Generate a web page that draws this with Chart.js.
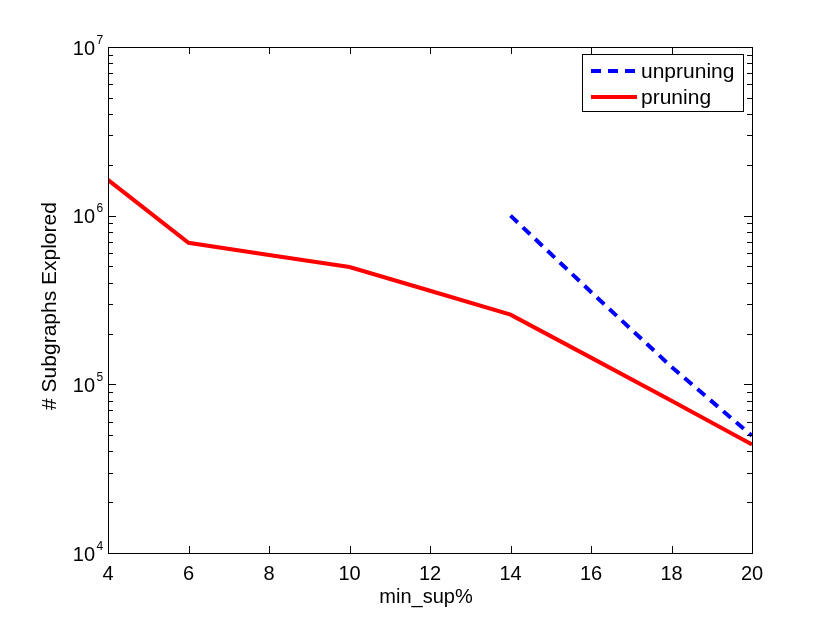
<!DOCTYPE html>
<html>
<head>
<meta charset="utf-8">
<script src="https://cdn.jsdelivr.net/npm/chart.js@4"></script>
<style>
  html, body { margin: 0; padding: 0; background: #fff; }
  #wrap { width: 830px; height: 623px; }
</style>
</head>
<body>
<div id="wrap"><canvas id="c" width="830" height="623"></canvas></div>
<script>
// values
const minSupPruning = [4, 6, 8, 10, 12, 14, 16, 18, 20];
const pruning = [1630000, 690000, 585000, 496000, 359000, 259000, 144000, 80000, 44000];
const minSupUnpruning = [14, 16, 18, 20];
const unpruning = [1000000, 353000, 127000, 49500];
const xTicks = [4, 6, 8, 10, 12, 14, 16, 18, 20];
const yDecades = [4, 5, 6, 7];
const xTitle = 'min_sup%';
const yTitle = '# Subgraphs Explored';

const FONT = '"Liberation Sans", Arial, Helvetica, sans-serif';

function toPoints(xs, ys) {
	return xs.map(function (x, i) { return { x: x, y: ys[i] }; });
}

// box, inward ticks, y labels with exponents, titles and the legend
const framePlugin = {
	id: 'frame',
	afterDraw(chart) {
		const ctx = chart.ctx;
		const a = chart.chartArea;
		const xs = chart.scales.x;
		const ys = chart.scales.y;
		ctx.save();
		ctx.strokeStyle = '#000';
		ctx.lineWidth = 1;
		ctx.strokeRect(Math.round(a.left) + 0.5, Math.round(a.top) + 0.5,
			Math.round(a.right - a.left), Math.round(a.bottom - a.top));

		ctx.beginPath();
		xTicks.forEach(function (v) {
			const px = Math.round(xs.getPixelForValue(v)) + 0.5;
			ctx.moveTo(px, a.bottom); ctx.lineTo(px, a.bottom - 7);
			ctx.moveTo(px, a.top); ctx.lineTo(px, a.top + 7);
		});
		for (let d = yDecades[0]; d <= yDecades[yDecades.length - 1]; d++) {
			for (let m = 1; m <= 9; m++) {
				if (d === yDecades[yDecades.length - 1] && m > 1) break;
				const py = Math.round(ys.getPixelForValue(m * Math.pow(10, d))) + 0.5;
				const len = m === 1 ? 8 : 5;
				ctx.moveTo(a.left, py); ctx.lineTo(a.left + len, py);
				ctx.moveTo(a.right, py); ctx.lineTo(a.right - len, py);
			}
		}
		ctx.stroke();

		ctx.fillStyle = '#000';
		ctx.textBaseline = 'alphabetic';
		yDecades.forEach(function (d) {
			const py = ys.getPixelForValue(Math.pow(10, d));
			ctx.font = '20px ' + FONT;
			ctx.textAlign = 'right';
			ctx.fillText('10', a.left - 13, py + 7.5);
			ctx.font = '12px ' + FONT;
			ctx.textAlign = 'left';
			ctx.fillText(String(d), a.left - 11.5, py - 3.5);
		});

		// axis titles
		ctx.font = '20px ' + FONT;
		ctx.textAlign = 'center';
		ctx.fillText(xTitle, 426, 603);
		ctx.save();
		ctx.translate(56, 306);
		ctx.rotate(-Math.PI / 2);
		ctx.font = '21px ' + FONT;
		ctx.fillText(yTitle, 0, 0);
		ctx.restore();

		// legend
		const lx = 582, ly = 54, lw = 161, lh = 57;
		ctx.fillStyle = '#fff';
		ctx.fillRect(lx, ly, lw, lh);
		ctx.strokeRect(lx + 0.5, ly + 0.5, lw, lh);
		ctx.textBaseline = 'middle';
		chart.data.datasets.forEach(function (ds, i) {
			const y = ly + 17 + i * 26;
			ctx.beginPath();
			ctx.strokeStyle = ds.borderColor;
			ctx.lineWidth = ds.borderWidth;
			ctx.setLineDash(ds.borderDash || []);
			ctx.moveTo(591, y); ctx.lineTo(637, y);
			ctx.stroke();
			ctx.setLineDash([]);
			ctx.fillStyle = '#000';
			ctx.font = '21px ' + FONT;
			ctx.textAlign = 'left';
			ctx.fillText(ds.label, 641, y + 1);
		});
		ctx.restore();
	}
};

new Chart(document.getElementById('c').getContext('2d'), {
	type: 'line',
	data: {
		datasets: [{
			label: 'unpruning',
			data: toPoints(minSupUnpruning, unpruning),
			borderColor: '#0000ff',
			borderWidth: 4,
			borderDash: [10, 7],
			pointRadius: 0,
			fill: false
		}, {
			label: 'pruning',
			data: toPoints(minSupPruning, pruning),
			borderColor: '#ff0000',
			borderWidth: 4,
			pointRadius: 0,
			fill: false
		}]
	},
	options: {
		responsive: false,
		animation: false,
		layout: { padding: { top: 47, right: 78, left: 0, bottom: 0 } },
		plugins: {
			legend: { display: false },
			tooltip: { enabled: false }
		},
		scales: {
			x: {
				type: 'linear',
				min: 4,
				max: 20,
				afterBuildTicks: function (s) { s.ticks = xTicks.map(function (v) { return { value: v }; }); },
				afterFit: function (s) { s.height = 70; },
				grid: { display: false, drawTicks: false },
				border: { display: false },
				ticks: {
					color: '#000',
					padding: 9,
					maxRotation: 0,
					font: { family: FONT, size: 20 }
				}
			},
			y: {
				type: 'logarithmic',
				min: 10000,
				max: 10000000,
				afterFit: function (s) { s.width = 108; },
				grid: { display: false, drawTicks: false },
				border: { display: false },
				ticks: {
					callback: function () { return ''; }
				}
			}
		}
	},
	plugins: [framePlugin]
});
</script>
</body>
</html>
